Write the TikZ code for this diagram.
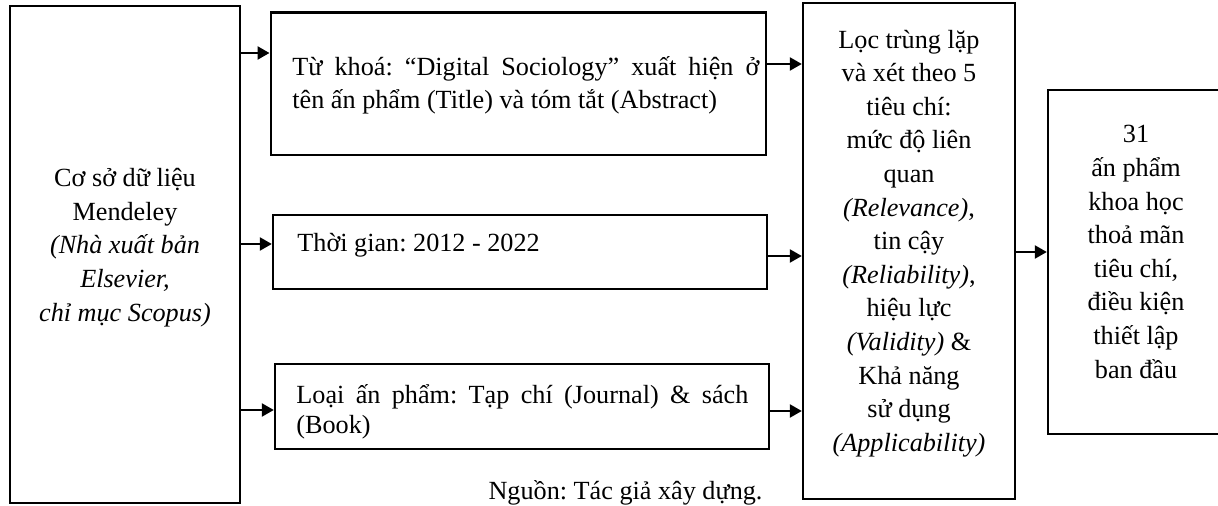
\documentclass[tikz,border=0pt]{standalone}
\usepackage{fontspec}
\setmainfont{Liberation Serif}
\usetikzlibrary{arrows.meta}
\tikzset{
  box/.style={draw, line width=1.2pt, rectangle, inner sep=0pt},
  arr/.style={-{Triangle[length=6pt,width=6.5pt]}, line width=1.2pt},
  txt/.style={font=\fontsize{13.1}{16.8}\selectfont, inner sep=0pt}
}
\begin{document}
\frenchspacing
\begin{tikzpicture}[x=0.5pt,y=-0.5pt]
\useasboundingbox (0,0) rectangle (1218,506);
% boxes
\node[box, minimum width=115pt, minimum height=248.5pt] (db) at (125,254.5) {};
\node[box, minimum width=247.5pt, minimum height=71.35pt] (kw) at (518.2,83.7) {};
\node[box, minimum width=247pt, minimum height=37pt] (tm) at (520,252) {};
\node[box, minimum width=247pt, minimum height=42.5pt] (ty) at (522,406.5) {};
\node[box, minimum width=106pt, minimum height=248pt] (flt) at (909,251) {};
\node[box, minimum width=91pt, minimum height=172pt] (res) at (1139,262) {};
% texts
\node[txt, align=center] (dbt) at (125,247.5)
 {Cơ sở dữ liệu\\Mendeley\\\textit{(Nhà xuất bản}\\\textit{Elsevier,}\\\textit{chỉ mục Scopus)}};
\node[txt, align=left, anchor=west] (kwt) at (292,85.5)
 {\makebox[233.5pt][s]{Từ khoá: “Digital Sociology” xuất hiện ở}\\tên ấn phẩm (Title) và tóm tắt (Abstract)};
\node[txt, anchor=west] (tmt) at (297,245.5) {Thời gian: 2012 - 2022};
\node[txt, align=left, anchor=west, font=\fontsize{13.1}{15}\selectfont] (tyt) at (296,411.5)
 {\makebox[226pt][s]{Loại ấn phẩm: Tạp chí (Journal) \& sách}\\(Book)};
\node[txt, align=center] (fltt) at (909,243.5)
 {Lọc trùng lặp\\và xét theo 5\\tiêu chí:\\mức độ liên\\quan\\\textit{(Relevance)},\\tin cậy\\\textit{(Reliability)},\\hiệu lực\\\textit{(Validity)} \&\\Khả năng\\sử dụng\\\textit{(Applicability)}};
\node[txt, align=center] (rest) at (1136,252)
 {31\\ấn phẩm\\khoa học\\thoả mãn\\tiêu chí,\\điều kiện\\thiết lập\\ban đầu};
\node[txt] (src) at (625.5,493) {Nguồn: Tác giả xây dựng.};
% connectors
\draw[arr] (db.east |- 0,53) -- (kw.west |- 0,53);
\draw[arr] (db.east |- 0,244) -- (tm.west |- 0,244);
\draw[arr] (db.east |- 0,410) -- (ty.west |- 0,410);
\draw[arr] (kw.east |- 0,64) -- (flt.west |- 0,64);
\draw[arr] (tm.east |- 0,256) -- (flt.west |- 0,256);
\draw[arr] (ty.east |- 0,411) -- (flt.west |- 0,411);
\draw[arr] (flt.east |- 0,252) -- (res.west |- 0,252);
\end{tikzpicture}
\end{document}
